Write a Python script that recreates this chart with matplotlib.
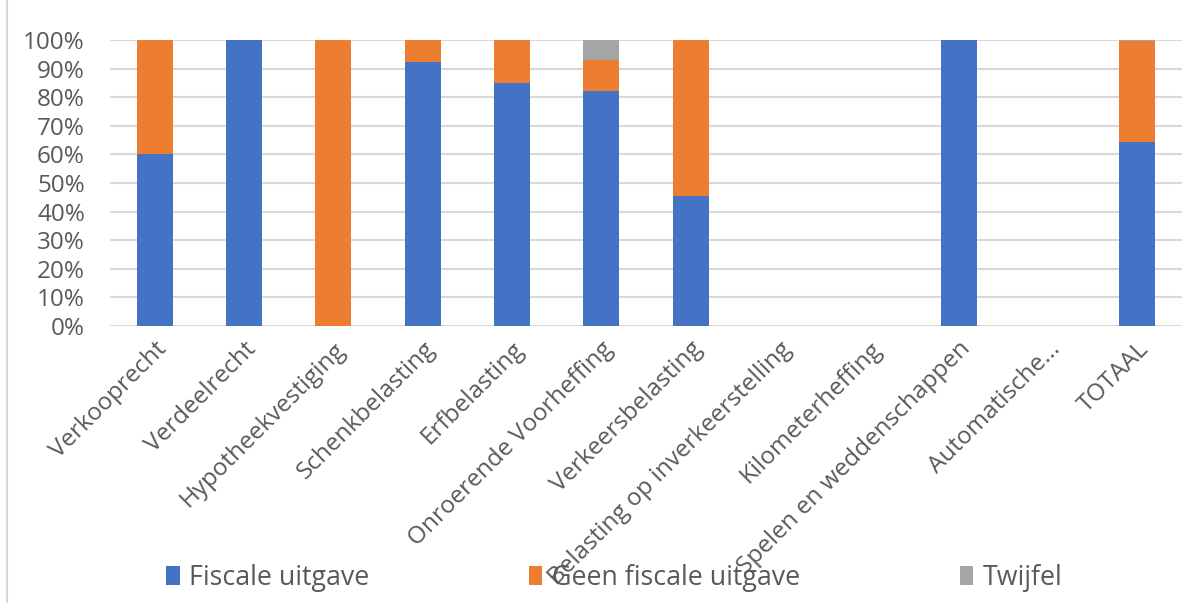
import matplotlib
matplotlib.use("Agg")
import matplotlib.pyplot as plt
from matplotlib.lines import Line2D
from matplotlib.patches import Patch
import numpy as np

categories = [
    "Verkooprecht", "Verdeelrecht", "Hypotheekvestiging", "Schenkbelasting",
    "Erfbelasting", "Onroerende Voorheffing", "Verkeersbelasting",
    "Belasting op inverkeerstelling", "Kilometerheffing",
    "Spelen en weddenschappen", "Automatische...", "TOTAAL",
]
fiscale = [60.1, 100.0, 0.0, 92.4, 85.0, 82.3, 45.3, 0.0, 0.0, 100.0, 0.0, 64.4]
geen_fiscale = [39.9, 0.0, 100.0, 7.6, 15.0, 10.7, 54.7, 0.0, 0.0, 0.0, 0.0, 35.3]
twijfel = [0.0, 0.0, 0.0, 0.0, 0.0, 7.0, 0.0, 0.0, 0.0, 0.0, 0.0, 0.3]
series_names = ["Fiscale uitgave", "Geen fiscale uitgave", "Twijfel"]
y_ticks = [0, 10, 20, 30, 40, 50, 60, 70, 80, 90, 100]

colors = ["#4472C4", "#ED7D31", "#A5A5A5"]
text_color = "#595959"
grid_color = "#D9D9D9"

plt.rcParams["font.family"] = ["Open Sans", "DejaVu Sans"]

W, H = 1200, 603
fig = plt.figure(figsize=(W / 100, H / 100), dpi=100)
ax = fig.add_axes([110 / W, 1 - 326 / H, (1182 - 110) / W, (326 - 40) / H])

x = np.arange(len(categories))
f = np.array(fiscale) / 100
g = np.array(geen_fiscale) / 100
t = np.array(twijfel) / 100
bw = 0.4
ax.bar(x, f, bw, color=colors[0], zorder=3)
ax.bar(x, g, bw, bottom=f, color=colors[1], zorder=3)
ax.bar(x, t, bw, bottom=f + g, color=colors[2], zorder=3)

ax.set_xlim(-0.5, len(categories) - 0.5)
ax.set_ylim(0, 1)
ax.set_yticks([v / 100 for v in y_ticks])
ax.set_yticklabels([f"{v}%" for v in y_ticks])
ax.yaxis.grid(True, color=grid_color, linewidth=1.5, zorder=0)
ax.set_axisbelow(True)
for s in ax.spines.values():
    s.set_visible(False)
ax.tick_params(axis="y", length=0, pad=18, labelsize=17.5, labelcolor=text_color)
ax.tick_params(axis="x", length=0, pad=8, labelsize=17.5, labelcolor=text_color)
ax.set_xticks(x)
ax.set_xticklabels(categories, rotation=45, ha="right", rotation_mode="anchor")

handles = [Patch(facecolor=c, edgecolor="none") for c in colors]
fig.legend(handles, series_names, loc="center",
           bbox_to_anchor=(614.5 / W, 1 - 578 / H), ncol=3, frameon=False,
           fontsize=19.3, labelcolor=text_color, handlelength=0.49,
           handleheight=0.75, handletextpad=0.37, columnspacing=5.95)

fig.add_artist(Line2D([7 / W, 7 / W], [0, 1], color=grid_color, linewidth=1.5))

fig.savefig("out.png", dpi=100)
